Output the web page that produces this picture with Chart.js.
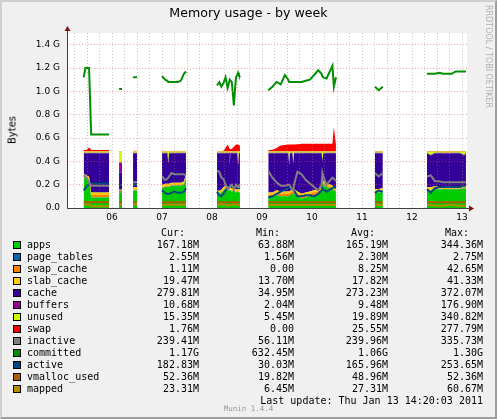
<!DOCTYPE html>
<html>
<head>
<meta charset="utf-8">
<title>Memory usage - by week</title>
<script src="https://cdn.jsdelivr.net/npm/chart.js@4.4.1/dist/chart.umd.min.js"></script>
<style>
  html, body { margin: 0; padding: 0; background: #f0f0f0; }
  #graph { position: relative; width: 497px; height: 419px; background: #f0f0f0; overflow: hidden; font-family: "DejaVu Sans", sans-serif; }
  #graph canvas { position: absolute; left: 0; top: 0; }
  #shade { position: absolute; left: 0; top: 0; width: 497px; height: 419px; box-sizing: border-box; border: 2px solid; border-color: #cfcfcf #9e9e9e #9e9e9e #cfcfcf; pointer-events: none; }
  #title { position: absolute; left: 0; top: 5px; width: 497px; text-align: center; font-size: 12.6px; line-height: 16px; color: #000; }
  #watermark { position: absolute; left: 483px; top: 5px; writing-mode: vertical-rl; font-size: 8px; line-height: 10px; color: #b0b0b0; white-space: nowrap; }
  #ylabel { position: absolute; left: 12px; top: 130px; transform: translate(-50%, -50%) rotate(-90deg); font-size: 10px; white-space: nowrap; color: #000; }
  .mono { position: absolute; font-family: "DejaVu Sans Mono", monospace; font-size: 10px; line-height: 12px; white-space: pre; color: #000; }
  .sw { position: absolute; width: 8px; height: 8px; box-sizing: border-box; border: 1px solid #000; }
</style>
</head>
<body>
<div id="graph">
  <canvas id="chart" width="497" height="419"></canvas>
  <div id="title">Memory usage - by week</div>
  <div id="watermark">RRDTOOL / TOBI OETIKER</div>
  <div id="ylabel">Bytes</div>
  <div id="legend"></div>
  <div id="shade"></div>
</div>
<script>
// time axis: hours since Thu Jan 06 00:00, null rows are gaps in the rrd data
const hours = [
  -1.6, -0.8, 0, 1, 2, 3, 4.5, 6, 7.5, 9, 10.6, 12,
  15.4, 16.8, 19, 22.1, 24, 30,
  36, 37.5, 38.6, 39, 39.4, 40.5, 42, 43.5, 45, 46.5, 47.5, 55,
  62.4, 63.5, 64.5, 65.5, 66.5, 67.5, 68.1, 68.5, 68.9, 69.5, 70.5, 71.5, 72.1, 72.5, 72.9, 73.4, 80,
  87, 89, 91, 93, 95, 96.6, 97, 97.4, 98.6, 99, 99.4, 101, 103, 105, 107, 109, 111, 112.6, 113, 113.4, 115, 117.8, 118.5, 119.5, 130,
  138.2, 140, 142, 150,
  163.2, 165, 167, 169, 171, 173, 175, 177, 179, 181, 181.9
];

// values in G (stacked areas)
const apps = [
  0.26, 0.26, 0.25, 0.24, 0.09, 0.09, 0.09, 0.09, 0.09, 0.09, 0.09, null,
  0.13, 0.13, null, 0.15, 0.15, null,
  0.17, 0.18, 0.18, 0.18, 0.18, 0.19, 0.19, 0.19, 0.19, 0.20, 0.26, null,
  0.12, 0.12, 0.13, 0.15, 0.17, 0.16, 0.15, 0.15, 0.15, 0.14, 0.15, 0.13, 0.14, 0.14, 0.14, 0.13, null,
  0.10, 0.10, 0.11, 0.10, 0.10, 0.10, 0.10, 0.10, 0.12, 0.12, 0.12, 0.10, 0.08, 0.09, 0.10, 0.11, 0.12, 0.14, 0.25, 0.20, 0.18, 0.16, 0.15, 0.14, null,
  0.13, 0.13, 0.14, null,
  0.15, 0.15, 0.16, 0.16, 0.16, 0.16, 0.16, 0.16, 0.16, 0.17, 0.17
];
const pageTables = [
  0.002, 0.002, 0.002, 0.002, 0.002, 0.002, 0.002, 0.002, 0.002, 0.002, 0.002, null,
  0.002, 0.002, null, 0.002, 0.002, null,
  0.002, 0.002, 0.002, 0.002, 0.002, 0.002, 0.002, 0.002, 0.002, 0.002, 0.002, null,
  0.002, 0.002, 0.002, 0.002, 0.002, 0.002, 0.002, 0.002, 0.002, 0.002, 0.002, 0.002, 0.002, 0.002, 0.002, 0.002, null,
  0.002, 0.002, 0.002, 0.002, 0.002, 0.002, 0.002, 0.002, 0.002, 0.002, 0.002, 0.002, 0.002, 0.002, 0.002, 0.002, 0.002, 0.002, 0.002, 0.002, 0.002, 0.002, 0.002, 0.002, null,
  0.002, 0.002, 0.002, null,
  0.002, 0.002, 0.002, 0.002, 0.002, 0.002, 0.002, 0.002, 0.002, 0.002, 0.002
];
const swapCache = [
  0.005, 0.005, 0.005, 0.005, 0.02, 0.02, 0.02, 0.02, 0.02, 0.02, 0.02, null,
  0.005, 0.005, null, 0.005, 0.005, null,
  0.005, 0.005, 0.005, 0.005, 0.005, 0.005, 0.005, 0.005, 0.005, 0.005, 0.005, null,
  0.005, 0.005, 0.005, 0.005, 0.005, 0.005, 0.005, 0.005, 0.005, 0.005, 0.005, 0.005, 0.005, 0.005, 0.005, 0.005, null,
  0.01, 0.01, 0.02, 0.02, 0.02, 0.02, 0.02, 0.02, 0.02, 0.02, 0.02, 0.02, 0.02, 0.02, 0.02, 0.02, 0.02, 0.01, 0.01, 0.01, 0.01, 0.01, 0.01, 0.01, null,
  0.01, 0.01, 0.01, null,
  0.005, 0.005, 0.005, 0.005, 0.005, 0.005, 0.005, 0.005, 0.005, 0.005, 0.005
];
const slabCache = [
  0.02, 0.02, 0.02, 0.02, 0.02, 0.02, 0.02, 0.02, 0.02, 0.02, 0.02, null,
  0.02, 0.02, null, 0.02, 0.02, null,
  0.02, 0.02, 0.02, 0.02, 0.02, 0.02, 0.02, 0.02, 0.02, 0.02, 0.02, null,
  0.02, 0.02, 0.02, 0.02, 0.02, 0.02, 0.02, 0.02, 0.02, 0.02, 0.02, 0.02, 0.02, 0.02, 0.02, 0.02, null,
  0.02, 0.02, 0.02, 0.02, 0.02, 0.02, 0.02, 0.02, 0.02, 0.02, 0.02, 0.02, 0.02, 0.02, 0.02, 0.02, 0.02, 0.02, 0.02, 0.02, 0.02, 0.02, 0.02, 0.02, null,
  0.02, 0.02, 0.02, null,
  0.02, 0.02, 0.02, 0.02, 0.02, 0.02, 0.02, 0.02, 0.02, 0.02, 0.02
];
const cache = [
  0.182, 0.182, 0.192, 0.202, 0.337, 0.337, 0.337, 0.337, 0.337, 0.337, 0.337, null,
  0.148, 0.148, null, 0.292, 0.292, null,
  0.272, 0.262, 0.262, 0.174, 0.262, 0.252, 0.252, 0.252, 0.252, 0.242, 0.182, null,
  0.322, 0.322, 0.312, 0.292, 0.272, 0.282, 0.292, 0.196, 0.292, 0.302, 0.292, 0.312, 0.302, 0.214, 0.302, 0.312, null,
  0.337, 0.337, 0.317, 0.327, 0.327, 0.327, 0.239, 0.327, 0.307, 0.219, 0.307, 0.327, 0.347, 0.337, 0.327, 0.317, 0.307, 0.297, 0.119, 0.237, 0.257, 0.277, 0.287, 0.297, null,
  0.307, 0.307, 0.297, null,
  0.292, 0.274, 0.282, 0.282, 0.282, 0.276, 0.282, 0.282, 0.282, 0.254, 0.272
];
const buffers = [
  0.004, 0.004, 0.004, 0.004, 0.004, 0.004, 0.004, 0.004, 0.004, 0.004, 0.004, null,
  0.085, 0.085, null, 0.004, 0.004, null,
  0.004, 0.004, 0.004, 0.004, 0.004, 0.004, 0.004, 0.004, 0.004, 0.004, 0.004, null,
  0.004, 0.004, 0.004, 0.004, 0.004, 0.004, 0.004, 0.1, 0.004, 0.004, 0.004, 0.004, 0.004, 0.004, 0.004, 0.004, null,
  0.004, 0.004, 0.004, 0.004, 0.004, 0.004, 0.004, 0.004, 0.004, 0.004, 0.004, 0.004, 0.004, 0.004, 0.004, 0.004, 0.004, 0.004, 0.004, 0.004, 0.004, 0.004, 0.004, 0.004, null,
  0.004, 0.004, 0.004, null,
  0.004, 0.004, 0.004, 0.004, 0.004, 0.01, 0.004, 0.004, 0.004, 0.004, 0.004
];
const unused = [
  0.012, 0.012, 0.012, 0.012, 0.012, 0.012, 0.012, 0.012, 0.012, 0.012, 0.012, null,
  0.095, 0.095, null, 0.012, 0.012, null,
  0.012, 0.012, 0.012, 0.1, 0.012, 0.012, 0.012, 0.012, 0.012, 0.012, 0.012, null,
  0.012, 0.012, 0.012, 0.012, 0.012, 0.012, 0.012, 0.012, 0.012, 0.012, 0.012, 0.012, 0.012, 0.1, 0.012, 0.012, null,
  0.012, 0.012, 0.012, 0.012, 0.012, 0.012, 0.1, 0.012, 0.012, 0.1, 0.012, 0.012, 0.012, 0.012, 0.012, 0.012, 0.012, 0.012, 0.08, 0.012, 0.012, 0.012, 0.012, 0.012, null,
  0.012, 0.012, 0.012, null,
  0.012, 0.03, 0.012, 0.012, 0.012, 0.012, 0.012, 0.012, 0.012, 0.03, 0.012
];
const swap = [
  0.012, 0.012, 0.015, 0.035, 0.012, 0.012, 0.012, 0.012, 0.012, 0.012, 0.012, null,
  0.003, 0.003, null, 0.005, 0.005, null,
  0.004, 0.004, 0.004, 0.004, 0.004, 0.004, 0.004, 0.004, 0.004, 0.004, 0.004, null,
  0.003, 0.003, 0.003, 0.005, 0.03, 0.06, 0.04, 0.02, 0.02, 0.02, 0.04, 0.06, 0.06, 0.06, 0.055, 0.05, null,
  0.01, 0.015, 0.03, 0.05, 0.055, 0.06, 0.06, 0.06, 0.06, 0.06, 0.06, 0.062, 0.065, 0.065, 0.065, 0.065, 0.065, 0.065, 0.065, 0.065, 0.065, 0.065, 0.21, 0.06, null,
  0.004, 0.004, 0.004, null,
  0.003, 0.003, 0.003, 0.003, 0.003, 0.003, 0.003, 0.003, 0.003, 0.003, 0.003
];

// values in G (LINE2, not stacked)
const inactive = [
  0.28, 0.27, 0.25, 0.22, 0.19, 0.19, 0.19, 0.19, 0.19, 0.19, 0.19, null,
  0.14, 0.14, null, 0.22, 0.22, null,
  0.27, 0.24, 0.25, 0.26, 0.27, 0.30, 0.29, 0.29, 0.29, 0.29, 0.28, null,
  0.32, 0.31, 0.26, 0.25, 0.20, 0.16, 0.17, 0.18, 0.19, 0.20, 0.16, 0.20, 0.19, 0.18, 0.19, 0.20, null,
  0.32, 0.26, 0.22, 0.19, 0.19, 0.20, 0.20, 0.19, 0.16, 0.15, 0.20, 0.31, 0.29, 0.24, 0.21, 0.18, 0.15, 0.20, 0.30, 0.27, 0.20, 0.26, 0.25, 0.23, null,
  0.30, 0.27, 0.30, null,
  0.27, 0.28, 0.23, 0.23, 0.22, 0.22, 0.22, 0.22, 0.22, 0.22, 0.22
];
const committed = [
  1.12, 1.20, 1.20, 1.20, 0.63, 0.63, 0.63, 0.63, 0.63, 0.63, 0.63, null,
  1.02, 1.02, null, 1.12, 1.12, null,
  1.13, 1.10, 1.09, 1.08, 1.08, 1.08, 1.08, 1.08, 1.09, 1.15, 1.17, null,
  1.05, 1.08, 1.04, 1.07, 1.12, 1.03, 1.07, 1.10, 1.09, 1.08, 0.88, 1.12, 1.14, 1.16, 1.14, 1.12, null,
  1.01, 1.04, 1.08, 1.06, 1.14, 1.10, 1.08, 1.08, 1.08, 1.08, 1.08, 1.08, 1.08, 1.09, 1.10, 1.14, 1.18, 1.15, 1.13, 1.12, 1.11, 1.22, 1.04, 1.12, null,
  1.04, 1.01, 1.04, null,
  1.15, 1.15, 1.15, 1.16, 1.15, 1.15, 1.15, 1.17, 1.17, 1.17, 1.17
];
const active = [
  0.15, 0.17, 0.19, 0.20, 0.21, 0.21, 0.21, 0.21, 0.21, 0.21, 0.21, null,
  0.20, 0.20, null, 0.20, 0.20, null,
  0.15, 0.13, 0.12, 0.12, 0.12, 0.13, 0.14, 0.13, 0.13, 0.14, 0.17, null,
  0.14, 0.11, 0.10, 0.12, 0.15, 0.17, 0.18, 0.19, 0.19, 0.18, 0.17, 0.19, 0.18, 0.17, 0.17, 0.18, null,
  0.09, 0.10, 0.12, 0.14, 0.16, 0.17, 0.17, 0.17, 0.16, 0.16, 0.15, 0.10, 0.10, 0.11, 0.11, 0.10, 0.12, 0.15, 0.17, 0.16, 0.14, 0.17, 0.18, 0.17, null,
  0.13, 0.15, 0.14, null,
  0.16, 0.13, 0.17, 0.18, 0.18, 0.18, 0.18, 0.18, 0.18, 0.19, 0.19
];
const vmallocUsed = [
  0.05, 0.05, 0.05, 0.05, 0.05, 0.05, 0.05, 0.05, 0.05, 0.05, 0.05, null,
  0.05, 0.05, null, 0.05, 0.05, null,
  0.05, 0.05, 0.05, 0.05, 0.05, 0.05, 0.05, 0.05, 0.05, 0.05, 0.05, null,
  0.05, 0.05, 0.05, 0.05, 0.05, 0.05, 0.05, 0.05, 0.05, 0.05, 0.05, 0.05, 0.05, 0.05, 0.05, 0.05, null,
  0.05, 0.05, 0.05, 0.05, 0.05, 0.05, 0.05, 0.05, 0.05, 0.05, 0.05, 0.05, 0.05, 0.05, 0.05, 0.05, 0.05, 0.05, 0.05, 0.05, 0.05, 0.05, 0.05, 0.05, null,
  0.05, 0.05, 0.05, null,
  0.05, 0.05, 0.05, 0.05, 0.05, 0.05, 0.05, 0.05, 0.05, 0.05, 0.05
];
const mapped = [
  0.03, 0.03, 0.03, 0.03, 0.015, 0.015, 0.015, 0.015, 0.015, 0.015, 0.015, null,
  0.03, 0.03, null, 0.03, 0.03, null,
  0.028, 0.028, 0.028, 0.028, 0.028, 0.028, 0.028, 0.028, 0.028, 0.028, 0.028, null,
  0.025, 0.03, 0.035, 0.03, 0.025, 0.02, 0.022, 0.025, 0.028, 0.03, 0.035, 0.03, 0.028, 0.025, 0.028, 0.03, null,
  0.025, 0.025, 0.025, 0.025, 0.025, 0.025, 0.025, 0.025, 0.025, 0.025, 0.025, 0.025, 0.025, 0.025, 0.025, 0.025, 0.025, 0.025, 0.025, 0.025, 0.025, 0.025, 0.025, 0.025, null,
  0.025, 0.025, 0.025, null,
  0.025, 0.025, 0.02, 0.02, 0.02, 0.025, 0.025, 0.02, 0.02, 0.02, 0.02
];

// axis ticks
const xTickHours = [-6, 0, 6, 12, 18, 24, 30, 36, 42, 48, 54, 60, 66, 72, 78, 84, 90, 96, 102, 108, 114, 120, 126, 132, 138, 144, 150, 156, 162, 168, 174, 180];
const dayLabels = ['06', '07', '08', '09', '10', '11', '12', '13'];
const yTickValues = [0, 0.1, 0.2, 0.3, 0.4, 0.5, 0.6, 0.7, 0.8, 0.9, 1.0, 1.1, 1.2, 1.3, 1.4, 1.5];
const yTickLabels = ['0.0', '', '0.2 G', '', '0.4 G', '', '0.6 G', '', '0.8 G', '', '1.0 G', '', '1.2 G', '', '1.4 G', ''];

// legend text
const seriesNames = ['apps', 'page_tables', 'swap_cache', 'slab_cache', 'cache', 'buffers', 'unused', 'swap', 'inactive', 'committed', 'active', 'vmalloc_used', 'mapped'];
const seriesColors = ['#00CC00', '#0066B3', '#FF8000', '#FFCC00', '#330099', '#990099', '#CCFF00', '#FF0000', '#808080', '#008F00', '#00487D', '#B35A00', '#B38F00'];
const curVals = ['167.18M', '2.55M', '1.11M', '19.47M', '279.81M', '10.68M', '15.35M', '1.76M', '239.41M', '1.17G', '182.83M', '52.36M', '23.31M'];
const minVals = ['63.88M', '1.56M', '0.00', '13.70M', '34.95M', '2.04M', '5.45M', '0.00', '56.11M', '632.45M', '30.03M', '19.82M', '6.45M'];
const avgVals = ['165.19M', '2.30M', '8.25M', '17.82M', '273.23M', '9.48M', '19.89M', '25.55M', '239.96M', '1.06G', '165.96M', '48.96M', '27.31M'];
const maxVals = ['344.36M', '2.75M', '42.65M', '41.33M', '372.07M', '176.90M', '340.82M', '277.79M', '335.73M', '1.30G', '253.65M', '52.36M', '60.67M'];
const lastUpdate = 'Last update: Thu Jan 13 14:20:03 2011';
const muninVersion = 'Munin 1.4.4';

const MGRID = 'rgba(224, 80, 80, 0.5)';
const GRID = 'rgba(143, 143, 143, 0.45)';

function pts(arr) {
  return hours.map((h, i) => ({ x: h, y: arr[i] }));
}

// lines first so they are painted above the areas
const lineSeries = [
  ['inactive', inactive, '#808080'],
  ['committed', committed, '#008F00'],
  ['active', active, '#00487D'],
  ['vmalloc_used', vmallocUsed, '#B35A00'],
  ['mapped', mapped, '#B38F00']
];
const areaSeries = [
  ['apps', apps, '#00CC00'],
  ['page_tables', pageTables, '#0066B3'],
  ['swap_cache', swapCache, '#FF8000'],
  ['slab_cache', slabCache, '#FFCC00'],
  ['cache', cache, '#330099'],
  ['buffers', buffers, '#990099'],
  ['unused', unused, '#CCFF00'],
  ['swap', swap, '#FF0000']
];

const datasets = [];
lineSeries.forEach(([label, arr, color]) => {
  if (arr.length !== hours.length) console.error(label, arr.length);
  datasets.push({
    label, data: pts(arr), stack: 'line_' + label,
    borderColor: color, borderWidth: 2, fill: false, pointRadius: 0
  });
});
areaSeries.forEach(([label, arr, color], i) => {
  if (arr.length !== hours.length) console.error(label, arr.length);
  datasets.push({
    label, data: pts(arr), stack: 'mem',
    backgroundColor: color, borderColor: 'rgba(0,0,0,0)', borderWidth: 0,
    fill: i === 0 ? 'origin' : '-1', pointRadius: 0
  });
});

// white canvas behind the plot, axis arrows like rrdtool
const rrdFrame = {
  id: 'rrdFrame',
  beforeDraw(chart) {
    const { ctx, chartArea: a } = chart;
    ctx.save();
    ctx.fillStyle = '#ffffff';
    ctx.fillRect(a.left, a.top, a.right - a.left, a.bottom - a.top);
    ctx.restore();
  },
  afterDraw(chart) {
    const { ctx, chartArea: a } = chart;
    const x0 = Math.round(a.left) + 0.5;
    const y0 = Math.round(a.bottom) + 0.5;
    ctx.save();
    ctx.strokeStyle = '#404040';
    ctx.lineWidth = 1;
    ctx.beginPath();
    ctx.moveTo(x0, y0);
    ctx.lineTo(x0, a.top - 3);
    ctx.moveTo(x0, y0);
    ctx.lineTo(a.right + 3, y0);
    ctx.stroke();
    ctx.fillStyle = '#7f1414';
    ctx.beginPath();
    ctx.moveTo(x0, a.top - 7);
    ctx.lineTo(x0 - 3, a.top - 2);
    ctx.lineTo(x0 + 3, a.top - 2);
    ctx.closePath();
    ctx.fill();
    ctx.beginPath();
    ctx.moveTo(a.right + 7, y0);
    ctx.lineTo(a.right + 2, y0 - 3);
    ctx.lineTo(a.right + 2, y0 + 3);
    ctx.closePath();
    ctx.fill();
    ctx.restore();
  }
};

Chart.defaults.font.family = '"DejaVu Sans", sans-serif';
Chart.defaults.font.size = 9;
Chart.defaults.color = '#000';

new Chart(document.getElementById('chart'), {
  type: 'line',
  data: { datasets },
  options: {
    responsive: false,
    animation: false,
    devicePixelRatio: 1,
    events: [],
    layout: { padding: { left: 0, top: 33, right: 30, bottom: 193 } },
    elements: { line: { tension: 0 }, point: { radius: 0 } },
    plugins: { legend: { display: false }, tooltip: { enabled: false }, title: { display: false } },
    scales: {
      x: {
        type: 'linear',
        min: -9.6,
        max: 182.4,
        afterBuildTicks: (s) => { s.ticks = xTickHours.map((v) => ({ value: v })); },
        afterFit: (s) => { s.height = 18; },
        ticks: {
          autoSkip: false, maxRotation: 0, padding: 4, color: '#000',
          callback: (v) => ((v - 12) % 24 === 0 ? dayLabels[(v - 12) / 24] : '')
        },
        grid: {
          z: 1, drawTicks: false, lineWidth: 1,
          color: (ctx) => (ctx.tick && ctx.tick.value % 24 === 0 ? MGRID : GRID)
        },
        border: { display: false, dash: [1, 2] }
      },
      y: {
        stacked: true,
        min: 0,
        max: 1.5,
        afterBuildTicks: (s) => { s.ticks = yTickValues.map((v) => ({ value: v })); },
        afterFit: (s) => { s.width = 67; },
        ticks: {
          padding: 7, color: '#000',
          callback: (v, i) => yTickLabels[i]
        },
        grid: {
          z: 1, drawTicks: false, lineWidth: 1,
          color: (ctx) => (ctx.index % 2 === 0 ? MGRID : GRID)
        },
        border: { display: false, dash: [1, 2] }
      }
    }
  },
  plugins: [rrdFrame]
});

// legend table below the graph
const legend = document.getElementById('legend');
function put(text, x, yMid, align) {
  const d = document.createElement('div');
  d.className = 'mono';
  d.textContent = text;
  d.style.top = (yMid - 6) + 'px';
  if (align === 'right') {
    d.style.right = (497 - x) + 'px';
    d.style.textAlign = 'right';
  } else {
    d.style.left = x + 'px';
  }
  legend.appendChild(d);
  return d;
}
put('Cur:', 185, 233, 'right');
put('Min:', 280, 233, 'right');
put('Avg:', 375, 233, 'right');
put('Max:', 469, 233, 'right');
seriesNames.forEach((name, i) => {
  const y = 245 + i * 12;
  const sw = document.createElement('div');
  sw.className = 'sw';
  sw.style.left = '13px';
  sw.style.top = (y - 4) + 'px';
  sw.style.background = seriesColors[i];
  legend.appendChild(sw);
  put(name, 27, y, 'left');
  put(curVals[i], 199, y, 'right');
  put(minVals[i], 294, y, 'right');
  put(avgVals[i], 388, y, 'right');
  put(maxVals[i], 483, y, 'right');
});
put(lastUpdate, 483, 401, 'right');
const mv = put(muninVersion, 0, 409, 'left');
mv.style.width = '497px';
mv.style.textAlign = 'center';
mv.style.fontSize = '7.5px';
mv.style.color = '#999';
</script>
</body>
</html>
